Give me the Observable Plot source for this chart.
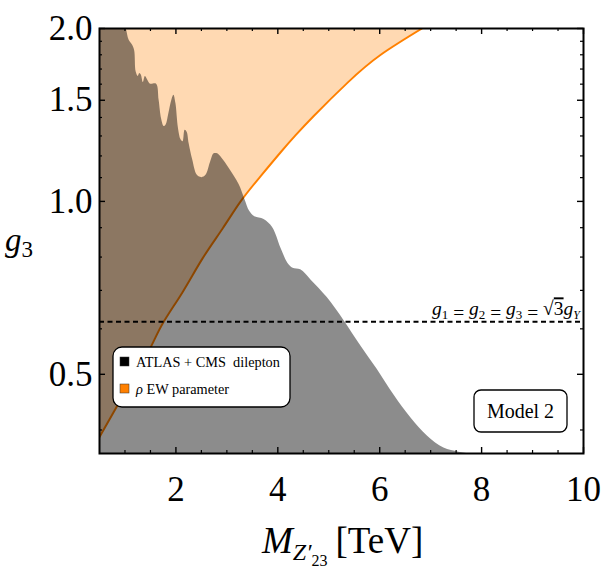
<!DOCTYPE html>
<html><head><meta charset="utf-8">
<script src="https://cdn.jsdelivr.net/npm/d3@7"></script>
<script src="https://cdn.jsdelivr.net/npm/@observablehq/plot@0.6"></script>
<style>body{margin:0;background:#fff}</style>
</head><body><div id="chart"></div>
<script>
// ATLAS + CMS dilepton exclusion boundary (mass in TeV, coupling g3)
const dileptonMass = [0.5, 0.98, 1.03, 1.08, 1.15, 1.19, 1.22, 1.26, 1.29, 1.32, 1.36, 1.40, 1.44, 1.50, 1.62, 1.67, 1.72, 1.77, 1.81, 1.86, 1.92, 1.96, 2.00, 2.05, 2.10, 2.14, 2.18, 2.22, 2.26, 2.33, 2.42, 2.51, 2.59, 2.68, 2.75, 2.82, 2.90, 3.05, 3.24, 3.35, 3.45, 3.55, 3.73, 3.90, 4.06, 4.20, 4.30, 4.45, 4.65, 4.97, 5.30, 5.63, 5.95, 6.28, 6.61, 6.94, 7.26, 7.55, 7.75];
const dileptonCoupling = [2.05, 2.05, 1.99, 1.91, 1.87, 1.83, 1.68, 1.65, 1.67, 1.66, 1.61, 1.65, 1.63, 1.60, 1.60, 1.50, 1.39, 1.35, 1.36, 1.42, 1.50, 1.53, 1.48, 1.34, 1.28, 1.27, 1.33, 1.32, 1.26, 1.18, 1.11, 1.10, 1.11, 1.17, 1.21, 1.21, 1.19, 1.14, 1.07, 1.01, 0.96, 0.94, 0.93, 0.90, 0.83, 0.78, 0.765, 0.76, 0.73, 0.68, 0.62, 0.56, 0.51, 0.46, 0.42, 0.39, 0.372, 0.366, 0.364];
// rho EW parameter bound
const rhoMass = [0.5, 1.08, 1.48, 1.74, 2.13, 2.52, 2.92, 3.27, 3.65, 4.06, 4.35, 4.71, 5.37, 6.02, 6.87];
const rhoCoupling = [0.389, 0.479, 0.552, 0.613, 0.695, 0.795, 0.898, 1.0, 1.103, 1.219, 1.304, 1.41, 1.61, 1.80, 2.01];
// unified coupling line g1 = g2 = g3 = sqrt(3) gY
const unifiedCoupling = [0.617];

const xDomain = [0.5, 10];
const yDomain = [0.364, 2.0];
const xTickValues = [2, 4, 6, 8, 10];
const xMinorTicks = [1, 1.5, 2.5, 3, 3.5, 4.5, 5, 5.5, 6.5, 7, 7.5, 8.5, 9, 9.5];
const yTickValues = [0.5, 1.0, 1.5, 2.0];
const yMinorTicks = [0.4, 0.6, 0.7, 0.8, 0.9, 1.1, 1.2, 1.3, 1.4, 1.6, 1.7, 1.8, 1.9];

const legendItems = ["ATLAS + CMS  dilepton", "EW parameter"];
const legendColors = ["#000000", "#ff8000"];

const W = 616, H = 571, mL = 99, mR = 33, mT = 28, mB = 118;
const iW = W - mL - mR, iH = H - mT - mB;
const serif = "'Liberation Serif', 'Times New Roman', serif";

const dilepton = dileptonMass.map((m, i) => ({m, g: dileptonCoupling[i]}));
const rho = rhoMass.map((m, i) => ({m, g: rhoCoupling[i]}));

const svg = Plot.plot({
  width: W, height: H,
  marginLeft: mL, marginRight: mR, marginTop: mT, marginBottom: mB,
  style: {fontFamily: serif, background: "white", color: "black"},
  x: {domain: xDomain},
  y: {type: "log", domain: yDomain},
  marks: [
    Plot.areaY(rho, {x: "m", y1: "g", y2: yDomain[1], fill: "#ff8000", fillOpacity: 0.3, curve: "natural", clip: true}),
    Plot.line(rho, {x: "m", y: "g", stroke: "#ff8000", strokeWidth: 2, curve: "natural", clip: true}),
    Plot.areaY(dilepton, {x: "m", y1: yDomain[0], y2: "g", fill: "black", fillOpacity: 0.45, curve: "catmull-rom", clip: true}),
    Plot.ruleY(unifiedCoupling, {stroke: "black", strokeWidth: 2, strokeDasharray: "5,3.5"}),
    // inward ticks
    Plot.ruleX(xTickValues, {insetTop: iH - 6, stroke: "black", strokeWidth: 1.4}),
    Plot.ruleX(xTickValues, {insetBottom: iH - 6, stroke: "black", strokeWidth: 1.4}),
    Plot.ruleX(xMinorTicks, {insetTop: iH - 3, stroke: "black", strokeWidth: 1.2}),
    Plot.ruleX(xMinorTicks, {insetBottom: iH - 3, stroke: "black", strokeWidth: 1.2}),
    Plot.ruleY(yTickValues, {insetRight: iW - 6, stroke: "black", strokeWidth: 1.4}),
    Plot.ruleY(yTickValues, {insetLeft: iW - 6, stroke: "black", strokeWidth: 1.4}),
    Plot.ruleY(yMinorTicks, {insetRight: iW - 3, stroke: "black", strokeWidth: 1.2}),
    Plot.ruleY(yMinorTicks, {insetLeft: iW - 3, stroke: "black", strokeWidth: 1.2}),
    Plot.frame({stroke: "black", strokeWidth: 2}),
    Plot.axisX({ticks: xTickValues, tickSize: 0, tickPadding: 23, fontSize: 35, fontFamily: serif, label: null, tickFormat: d => String(d)}),
    Plot.axisY({ticks: yTickValues, tickSize: 0, tickPadding: 7, fontSize: 35, fontFamily: serif, label: null, tickFormat: d => d.toFixed(1)})
  ]
});

const s = d3.select(svg);
const xs = svg.scale("x"), ys = svg.scale("y");

// y label g3
const yl = s.append("text").attr("x", 5).attr("y", 251).attr("text-anchor", "start").attr("font-family", serif).attr("fill", "black");
yl.append("tspan").attr("font-size", 33).attr("font-style", "italic").text("g");
yl.append("tspan").attr("font-size", 23).attr("dy", 6).text("3");

// x label M_{Z'_{23}} [TeV]
const xl = s.append("text").attr("x", 262).attr("y", 553).attr("text-anchor", "start").attr("font-family", serif).attr("fill", "black");
xl.append("tspan").attr("font-size", 37).attr("font-style", "italic").text("M");
xl.append("tspan").attr("font-size", 24).attr("font-style", "italic").attr("dy", 7).text("Z′");
xl.append("tspan").attr("font-size", 16).attr("dy", 6).text("23");
xl.append("tspan").attr("font-size", 37).attr("dy", -13).attr("dx", 8).text("[TeV]");

// dashed-line annotation
const lx = xs.apply(xDomain[1]) - 3, ly = ys.apply(unifiedCoupling[0]) - 6;
const lt = s.append("text").attr("x", lx).attr("y", ly).attr("text-anchor", "end").attr("font-family", serif).attr("font-size", 19.5).attr("fill", "black");
const parts = [["g", "1"], ["g", "2"], ["g", "3"]];
parts.forEach(([a, b], i) => {
  lt.append("tspan").attr("font-style", "italic").attr("dy", i === 0 ? 0 : -4).text(a);
  lt.append("tspan").attr("font-size", 13).attr("dy", 4).text(b);
  lt.append("tspan").text(" = ");
});
lt.append("tspan").attr("dy", -4).text("√");
lt.append("tspan").attr("text-decoration", "overline").text("3");
lt.append("tspan").attr("font-style", "italic").text("g");
lt.append("tspan").attr("font-size", 12).attr("font-style", "italic").attr("dy", 4).text("Y");

// legend box
const lg = s.append("g");
lg.append("rect").attr("x", 113).attr("y", 347).attr("width", 177).attr("height", 60).attr("rx", 9)
  .attr("fill", "white").attr("stroke", "black").attr("stroke-width", 1.3);
legendItems.forEach((t, i) => {
  const yy = 357 + i * 27;
  lg.append("rect").attr("x", 120).attr("y", yy).attr("width", 9).attr("height", 9).attr("fill", legendColors[i]).attr("stroke", "#333").attr("stroke-width", 0.5);
  const tx = lg.append("text").attr("x", 136).attr("y", yy + 10).attr("text-anchor", "start").attr("font-family", serif).attr("font-size", 14.3).attr("fill", "black").style("white-space", "pre");
  if (i === 1) tx.append("tspan").attr("font-style", "italic").text("ρ ");
  tx.append("tspan").text(t);
});

// Model 2 box
const mg = s.append("g");
mg.append("rect").attr("x", 474).attr("y", 390).attr("width", 93).attr("height", 42).attr("rx", 7)
  .attr("fill", "white").attr("stroke", "black").attr("stroke-width", 1.3);
mg.append("text").attr("x", 520.5).attr("y", 418).attr("text-anchor", "middle").attr("font-family", serif).attr("font-size", 20).attr("fill", "black").text("Model 2");

document.getElementById("chart").appendChild(svg);
</script>
</body></html>
